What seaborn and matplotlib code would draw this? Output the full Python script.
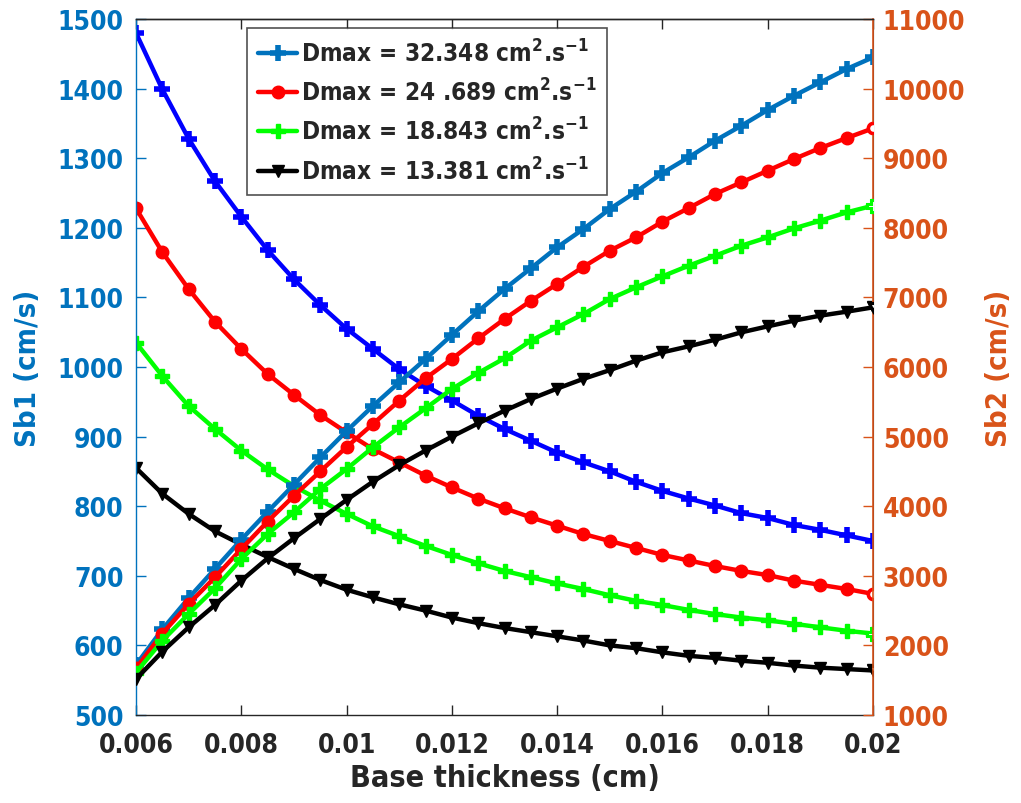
import matplotlib
matplotlib.use("Agg")
import matplotlib.pyplot as plt
import numpy as np
import pandas as pd
import seaborn as sns

# ---------------- data ----------------
thickness = [0.006, 0.0065, 0.007, 0.0075, 0.008, 0.0085, 0.009, 0.0095, 0.010,
             0.0105, 0.011, 0.0115, 0.012, 0.0125, 0.013, 0.0135, 0.014, 0.0145,
             0.015, 0.0155, 0.016, 0.0165, 0.017, 0.0175, 0.018, 0.0185, 0.019,
             0.0195, 0.020]

labels = ["Dmax = 32.348 cm$^{\\mathbf{2}}$.s$^{\\mathbf{-1}}$",
          "Dmax = 24 .689 cm$^{\\mathbf{2}}$.s$^{\\mathbf{-1}}$",
          "Dmax = 18.843 cm$^{\\mathbf{2}}$.s$^{\\mathbf{-1}}$",
          "Dmax = 13.381 cm$^{\\mathbf{2}}$.s$^{\\mathbf{-1}}$"]

# Sb1 (left axis, decreasing curves)
sb1_d32 = [1480, 1399, 1328, 1267, 1216, 1168, 1126, 1089, 1055, 1026, 997, 973, 952,
           930, 911, 894, 877, 863, 850, 835, 822, 811, 801, 790, 783, 773, 766, 758, 750]
sb1_d24 = [1228, 1165, 1112, 1065, 1026, 990, 960, 931, 906, 882, 863, 844, 827, 811,
           797, 784, 772, 760, 750, 740, 730, 722, 714, 707, 701, 693, 687, 681, 674]
sb1_d18 = [1035, 987, 944, 911, 880, 853, 829, 808, 789, 771, 757, 743, 730, 718, 707,
           698, 689, 681, 672, 664, 658, 651, 645, 640, 636, 631, 626, 621, 617]
sb1_d13 = [855, 818, 789, 764, 745, 727, 710, 694, 680, 669, 659, 650, 640, 632, 625,
           619, 613, 607, 600, 596, 590, 585, 582, 578, 575, 571, 568, 566, 564]

# Sb2 (right axis, increasing curves)
sb2_d32 = [1720, 2230, 2680, 3100, 3520, 3920, 4310, 4700, 5080, 5440, 5780, 6115, 6460,
           6800, 7121, 7418, 7720, 7983, 8270, 8519, 8787, 9013, 9252, 9467, 9693, 9898,
           10090, 10282, 10449]
sb2_d24 = [1670, 2170, 2595, 2978, 3385, 3780, 4150, 4500, 4850, 5181, 5516, 5837, 6115,
           6410, 6690, 6950, 7193, 7440, 7671, 7863, 8088, 8284, 8486, 8653, 8821, 8989,
           9147, 9290, 9429]
sb2_d18 = [1610, 2068, 2451, 2820, 3241, 3601, 3912, 4247, 4534, 4846, 5133, 5406, 5684,
           5914, 6125, 6378, 6570, 6761, 6977, 7145, 7303, 7456, 7599, 7743, 7863, 7992,
           8103, 8222, 8318]
sb2_d13 = [1517, 1910, 2260, 2580, 2930, 3251, 3539, 3816, 4090, 4352, 4590, 4800, 5000,
           5190, 5372, 5540, 5690, 5830, 5955, 6091, 6211, 6297, 6392, 6498, 6584, 6666,
           6738, 6795, 6857]

x_ticks = [0.006, 0.008, 0.010, 0.012, 0.014, 0.016, 0.018, 0.020]
x_ticklabels = ["0.006", "0.008", "0.01", "0.012", "0.014", "0.016", "0.018", "0.02"]
y1_ticks = [500, 600, 700, 800, 900, 1000, 1100, 1200, 1300, 1400, 1500]
y2_ticks = [1000, 2000, 3000, 4000, 5000, 6000, 7000, 8000, 9000, 10000, 11000]

# ---------------- style ----------------
sns.set_style("ticks")
FAM = ["DejaVu Sans"]
plt.rcParams["font.family"] = FAM
plt.rcParams["font.weight"] = "bold"
plt.rcParams["font.stretch"] = "condensed"
plt.rcParams["mathtext.fontset"] = "custom"
plt.rcParams["mathtext.bf"] = "DejaVu Sans:bold"
plt.rcParams["mathtext.rm"] = "DejaVu Sans:bold"

BLUE_AX = "#0072BD"
ORANGE_AX = "#D95319"
FS = 19

fig = plt.figure(figsize=(10.21, 8.04), dpi=100)
ax = fig.add_axes([136 / 1021, (804 - 716) / 804, 737 / 1021, 696 / 804])
ax2 = ax.twinx()

df1 = pd.DataFrame({"x": thickness, "d32": sb1_d32, "d24": sb1_d24,
                    "d18": sb1_d18, "d13": sb1_d13})
df2 = pd.DataFrame({"x": thickness, "d32": sb2_d32, "d24": sb2_d24,
                    "d18": sb2_d18, "d13": sb2_d13})

keys = ["d32", "d24", "d18", "d13"]
dec_colors = ["#0000FF", "#FF0000", "#00FF00", "#000000"]
inc_colors = ["#0072BD", "#FF0000", "#00FF00", "#000000"]
markers = ["+", "o", "P", "v"]
msizes = [11, 9, 10, 8]
mews = [4, 1, 1, 1]

handles = []
for k, c, m, ms, mw in zip(keys, dec_colors, markers, msizes, mews):
    sns.lineplot(data=df1, x="x", y=k, ax=ax, color=c, marker=m, markersize=ms,
                 markeredgecolor=c, markerfacecolor=c, markeredgewidth=mw,
                 linewidth=3.2, legend=False)
    last = df1.iloc[[-1]]
    if m != "+":
        ax.plot(last["x"], last[k], linestyle="none", marker=m, markersize=ms - 2,
                markerfacecolor="white", markeredgecolor=c, markeredgewidth=2.2, zorder=5)

for k, c, m, ms, mw, lab in zip(keys, inc_colors, markers, msizes, mews, labels):
    sns.lineplot(data=df2, x="x", y=k, ax=ax2, color=c, marker=m, markersize=ms,
                 markeredgecolor=c, markerfacecolor=c, markeredgewidth=mw,
                 linewidth=3.2, legend=False)
    handles.append(ax2.lines[-1])
    handles[-1].set_label(lab)
    last = df2.iloc[[-1]]
    if m != "+":
        ax2.plot(last["x"], last[k], linestyle="none", marker=m, markersize=ms - 2,
                 markerfacecolor="white", markeredgecolor=c, markeredgewidth=2.2, zorder=5)

# ---------------- axes ----------------
ax.set_xlim(0.006, 0.020)
ax.set_ylim(500, 1500)
ax2.set_ylim(1000, 11000)

ax.set_xticks(x_ticks)
ax.set_xticklabels(x_ticklabels)
ax.set_yticks(y1_ticks)
ax.set_yticklabels([str(v) for v in y1_ticks])
ax2.set_yticks(y2_ticks)
ax2.set_yticklabels([str(v) for v in y2_ticks])

ax.tick_params(axis="x", direction="in", length=7, width=1, colors="#262626",
               labelsize=FS, pad=12, top=True)
ax.tick_params(axis="y", direction="in", length=7, width=1, colors=BLUE_AX,
               labelsize=FS, pad=9)
ax2.tick_params(axis="y", direction="in", length=7, width=1, colors=ORANGE_AX,
                labelsize=FS, pad=7)

ax.spines["left"].set_color(BLUE_AX)
ax.spines["bottom"].set_color("#262626")
ax.spines["top"].set_color("#262626")
ax2.spines["right"].set_color(ORANGE_AX)
ax2.spines["left"].set_visible(False)
ax2.spines["top"].set_color("#262626")
ax2.spines["bottom"].set_visible(False)
for s in ["left", "bottom", "top"]:
    ax.spines[s].set_linewidth(1.0)
ax2.spines["right"].set_linewidth(1.2)
ax2.spines["top"].set_linewidth(1.0)

ax.set_xlabel("Base thickness (cm)", fontsize=22, fontweight="bold", color="#262626",
              labelpad=4)
ax.set_ylabel("Sb1 (cm/s)", fontsize=21, fontweight="bold", color=BLUE_AX, labelpad=11)
ax2.set_ylabel("Sb2 (cm/s)", fontsize=21, fontweight="bold", color=ORANGE_AX,
               labelpad=14)
ax.grid(False)
ax2.grid(False)

leg = ax2.legend(handles=handles, loc="upper left", bbox_to_anchor=(0.151, 0.987),
                 fontsize=17.5, frameon=True, fancybox=False, handlelength=1.6,
                 handletextpad=0.15, borderpad=0.45, labelspacing=0.5, borderaxespad=0)
leg.get_frame().set_edgecolor("#262626")
leg.get_frame().set_linewidth(1.2)
for t in leg.get_texts():
    t.set_fontweight("bold")

fig.savefig("out.png", dpi=100)
